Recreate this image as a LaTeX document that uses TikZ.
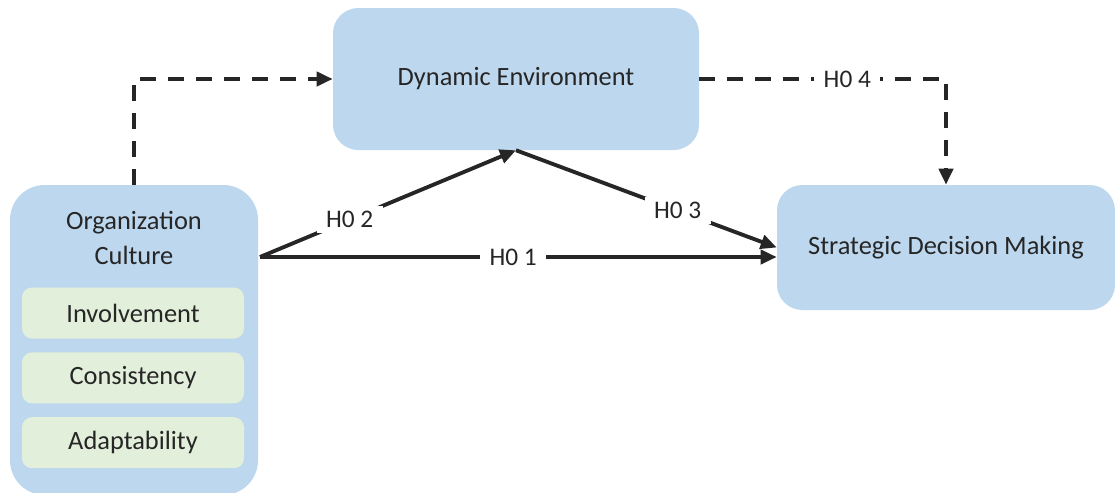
\documentclass[tikz,border=0pt]{standalone}
\usepackage{fontspec}
\setmainfont{Carlito}
\usepackage{tikz}
\usetikzlibrary{arrows.meta,positioning}
\definecolor{boxblue}{HTML}{BDD7EE}
\definecolor{boxgreen}{HTML}{E2EFDA}
\definecolor{inkgray}{HTML}{262626}
\tikzset{bigbox/.style={
    % The shape:
    rectangle,
    rounded corners=19pt,
    % The filling:
    fill=boxblue,
    % Font
    font=\fontsize{19.8pt}{26pt}\selectfont,
    text=inkgray,
    },
    subbox/.style={
    rectangle,
    rounded corners=7.5pt,
    minimum width=166.5pt,
    minimum height=38.25pt,
    fill=boxgreen,
    font=\fontsize{19.8pt}{24pt}\selectfont,
    text=inkgray,
    },
    hyplabel/.style={
    fill=white,
    inner xsep=7pt,
    inner ysep=4pt,
    font=\fontsize{19pt}{23pt}\selectfont,
    text=inkgray,
    },
    link/.style={
    line width=2.9pt,
    draw=inkgray,
    -{Triangle[length=12pt,width=10.5pt]},
    },
    dashlink/.style={
    link,
    dash pattern=on 12pt off 9pt,
    },
}

\begin{document}
\begin{tikzpicture}[x=0.75pt,y=-0.75pt,node distance=10pt]
    \useasboundingbox (0,0) rectangle (1115,493);

    \node (org) [bigbox,rounded corners=26pt,minimum width=186pt,minimum height=232.5pt] at (134,340) {};
    \node (orgtitle) [bigbox,fill=none,align=center] at (134,238) {Organization\\Culture};
    \node (inv)  [subbox] at (133,313)   {Involvement};
    \node (cons) [subbox,below=of inv]   {Consistency};
    \node (adap) [subbox,below=of cons]  {Adaptability};

    \node (dyn) [bigbox,minimum width=274.5pt,minimum height=106.5pt] at (516,79) {Dynamic Environment};
    \node (sdm) [bigbox,minimum width=253.5pt,minimum height=93.75pt] at (946,247.5) {Strategic Decision Making};

    \coordinate (orgout) at (260,257);

    \draw[link] (orgout) -- node[hyplabel,pos=0.35] {H0 2} (dyn.south);
    \draw[link] (dyn.south) -- node[hyplabel,pos=0.62] {H0 3} (sdm.west);
    \draw[link] (orgout) -- node[hyplabel,pos=0.49] {H0 1} (orgout -| sdm.west);

    \draw[dashlink] (org.north) |- (dyn.west);
    \draw[dashlink] (dyn.east) -| node[hyplabel,pos=0.3] {H0 4} (sdm.north);
\end{tikzpicture}
\end{document}
